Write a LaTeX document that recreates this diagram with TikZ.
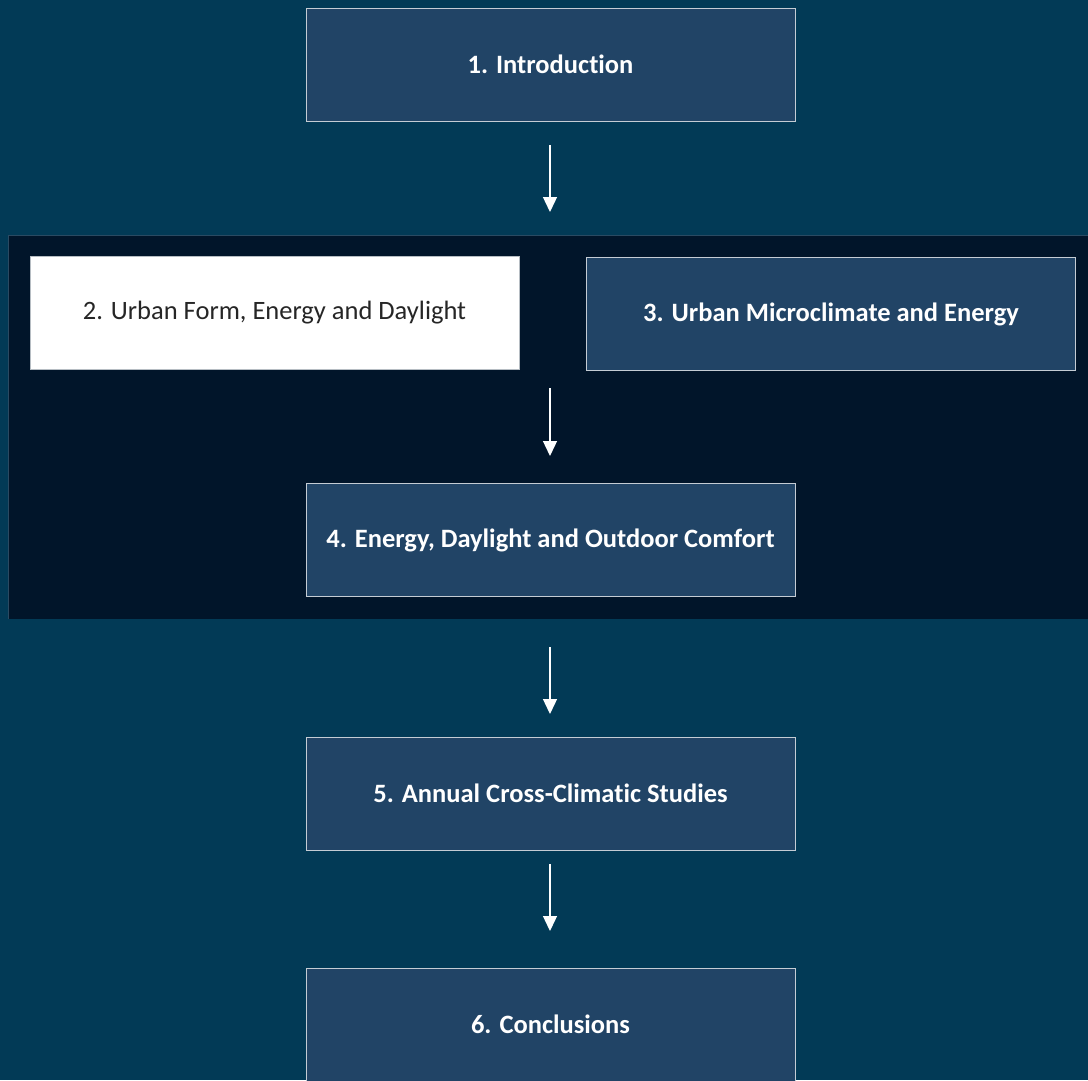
\documentclass[tikz,border=0pt]{standalone}
\usepackage{fontspec}
\setmainfont{Carlito}[Ligatures={NoCommon}]
\usetikzlibrary{arrows.meta,positioning}
\definecolor{pagebg}{HTML}{023A56}
\definecolor{bandbg}{HTML}{01152A}
\definecolor{bandline}{HTML}{2A4A62}
\definecolor{boxfill}{HTML}{214466}
\definecolor{boxline}{HTML}{C4CCD4}
\definecolor{darktext}{HTML}{262626}
\tikzset{
  x=1pt, y=-1pt,
  stagebox/.style={draw=boxline, line width=1pt, fill=boxfill, text=white,
    minimum width=489pt, minimum height=113pt, inner sep=0pt,
    font=\fontsize{26.5}{31}\selectfont\bfseries},
  lightbox/.style={stagebox, fill=white, draw=boxline!80!gray, text=darktext,
    font=\fontsize{26.5}{31}\selectfont},
  flow/.style={draw=white, line width=1.3pt,
    -{Triangle[width=14pt,length=15pt]}},
}
\begin{document}
\begin{tikzpicture}
  % page background
  \fill[pagebg] (0,0) rectangle (1088,1080);
  \useasboundingbox (0,0) rectangle (1088,1080);
  % dark band holding stages 2--4
  \fill[bandbg] (8,235) rectangle (1088,619);
  \draw[bandline, line width=1pt] (8,619) -- (8,235.5) -- (1088,235.5);

  \node[stagebox] (intro) at (550.5,64.5) {1. Introduction};
  \node[lightbox] (form) at (274.5,312.5) {2. Urban Form, Energy and Daylight};
  \node[stagebox] (micro) at (831,314) {3. Urban Microclimate and Energy};
  \node[stagebox] (comfort) at (550.5,540) {4. Energy, Daylight and Outdoor Comfort};
  \node[stagebox] (annual) at (550.5,793.5) {5. Annual Cross-Climatic Studies};
  \node[stagebox] (concl) at (550.5,1024.5) {6. Conclusions};

  % connector end points
  \coordinate (a1s) at (550,145); \coordinate (a1e) at (550,212);
  \coordinate (a2s) at (550,388); \coordinate (a2e) at (550,456);
  \coordinate (a3s) at (550,647); \coordinate (a3e) at (550,714);
  \coordinate (a4s) at (550,864); \coordinate (a4e) at (550,931);

  \draw[flow] (a1s) -- (a1e);
  \draw[flow] (a2s) -- (a2e);
  \draw[flow] (a3s) -- (a3e);
  \draw[flow] (a4s) -- (a4e);
\end{tikzpicture}
\end{document}
